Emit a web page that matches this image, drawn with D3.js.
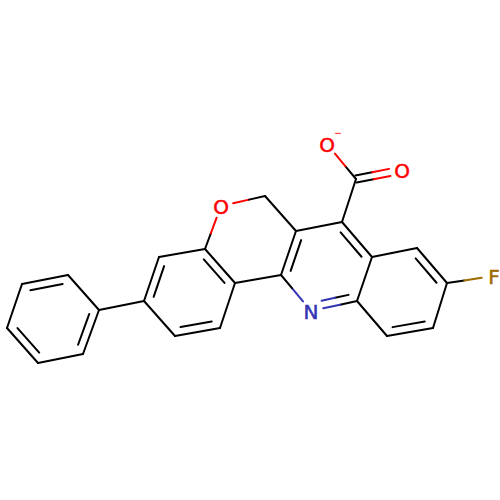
<!DOCTYPE html>
<html><head><meta charset="utf-8">
<style>html,body{margin:0;padding:0;background:#fff}svg{display:block}</style>
<script src="https://cdn.jsdelivr.net/npm/d3@7"></script></head>
<body><div id="chart"></div>
<script>
// Atoms (depiction units)
const atomNames = ["C1","C2","C3","C4","C5","C6","C7","C8","C9","C10","C11","C12","O13","C14","C15","C16","C17","O18","O19","C20","C21","C22","C23","C24","C25","N26","C27","F28"];
const atomX = [99,68,22,7,38,83,144,159,205,235,220,175,221,265,296,342,356,327,402,372,417,447,433,387,357,311,281,494];
const atomY = [310,275,284,328,363,354,301,257,249,283,328,336,206,196,231,222,179,144,170,257,248,283,328,336,301,311,275,276];
const atomLabels = ["","","","","","","","","","","","","O","","","","","O","O","","","","","","","N","","F"];
const atomColors = {O:"#ff0000",N:"#3333b3",F:"#a06a00","":"#000000"};
// Bonds: from atom, to atom, order, ring whose centre the second line leans towards (-1 = centred pair)
const bondFrom = [0,1,2,3,4,5,0,6,7,8,9,10,11,8,12,13,14,15,16,16,15,19,20,21,22,23,24,25,26,26,21,19];
const bondTo   = [1,2,3,4,5,0,6,7,8,9,10,11,6,12,13,14,15,16,17,18,19,20,21,22,23,24,25,26,14,9,27,24];
const bondOrder= [1,2,1,2,1,2,1,2,1,2,1,2,1,1,1,1,1,1,1,2,2,1,2,1,2,1,2,1,2,1,1,1];
const bondRing = [0,0,0,0,0,0,-1,1,1,1,1,1,1,-1,-1,-1,-1,-1,-1,-1,2,-1,3,3,3,3,2,-1,2,-1,-1,-1];
const ringAtoms = [[0,1,2,3,4,5],[6,7,8,9,10,11],[14,15,19,24,25,26],[19,20,21,22,23,24]];
const chargeText = "\u2212";
const chargeAtom = 17;

const W = 500, H = 500;
const x = d3.scaleLinear().domain([0,500]).range([0,W]);
const y = d3.scaleLinear().domain([0,500]).range([0,H]);
const svg = d3.select("#chart").append("svg").attr("width",W).attr("height",H).attr("viewBox",`0 0 ${W} ${H}`);
svg.append("rect").attr("width",W).attr("height",H).attr("fill","#fff");

const LABEL_GAP = 12.5, OFFSET = 7.8, SHORTEN = 7, PAIR = 3.6, SW = 2;
const pt = i => [x(atomX[i]), y(atomY[i])];
const ringCentre = r => [d3.mean(ringAtoms[r],i=>x(atomX[i])), d3.mean(ringAtoms[r],i=>y(atomY[i]))];

const segs = [];
function addHalves(p,q,a,b){
  // p,q already clipped; colours split at the middle of the visible part
  const m=[(p[0]+q[0])/2,(p[1]+q[1])/2];
  const ca=atomColors[atomLabels[a]], cb=atomColors[atomLabels[b]];
  if(ca===cb){segs.push({p,q,c:ca});return;}
  segs.push({p,q:m,c:ca}); segs.push({p:m,q,c:cb});
}
function clip(p,q,a,b,extraA=0,extraB=0){
  const L=Math.hypot(q[0]-p[0],q[1]-p[1]),ux=(q[0]-p[0])/L,uy=(q[1]-p[1])/L;
  const sa=Math.max(atomLabels[a]?LABEL_GAP:0,extraA), sb=Math.max(atomLabels[b]?LABEL_GAP:0,extraB);
  return [[p[0]+ux*sa,p[1]+uy*sa],[q[0]-ux*sb,q[1]-uy*sb]];
}
bondFrom.forEach((a,k)=>{
  const b=bondTo[k],p=pt(a),q=pt(b),L=Math.hypot(q[0]-p[0],q[1]-p[1]);
  const nx=-(q[1]-p[1])/L,ny=(q[0]-p[0])/L;
  if(bondOrder[k]===1){const [s,e]=clip(p,q,a,b);addHalves(s,e,a,b);return;}
  if(bondRing[k]<0){
    [1,-1].forEach(g=>{
      const s0=[p[0]+nx*PAIR*g,p[1]+ny*PAIR*g],e0=[q[0]+nx*PAIR*g,q[1]+ny*PAIR*g];
      const [s,e]=clip(s0,e0,a,b);addHalves(s,e,a,b);
    });
    return;
  }
  const [s,e]=clip(p,q,a,b);addHalves(s,e,a,b);
  const c=ringCentre(bondRing[k]);
  const mx=(p[0]+q[0])/2,my=(p[1]+q[1])/2;
  const g=((c[0]-mx)*nx+(c[1]-my)*ny)>0?1:-1;
  const s0=[p[0]+nx*OFFSET*g,p[1]+ny*OFFSET*g],e0=[q[0]+nx*OFFSET*g,q[1]+ny*OFFSET*g];
  const [s2,e2]=clip(s0,e0,a,b,SHORTEN,SHORTEN);
  addHalves(s2,e2,a,b);
});

svg.append("g").attr("fill","none").attr("stroke-width",SW).attr("stroke-linecap","round")
  .selectAll("line").data(segs).join("line")
  .attr("x1",d=>d.p[0]).attr("y1",d=>d.p[1]).attr("x2",d=>d.q[0]).attr("y2",d=>d.q[1])
  .attr("stroke",d=>d.c);

const labelled = atomNames.map((n,i)=>i).filter(i=>atomLabels[i]);
svg.append("g").attr("font-family","'DejaVu Sans',sans-serif").attr("font-size",20)
  .attr("text-anchor","middle").attr("dominant-baseline","central").attr("stroke-width",0.5)
  .selectAll("text").data(labelled).join("text")
  .attr("x",i=>x(atomX[i])).attr("y",i=>y(atomY[i])+1)
  .attr("fill",i=>atomColors[atomLabels[i]]).attr("stroke",i=>atomColors[atomLabels[i]]).text(i=>atomLabels[i]);
svg.append("text").attr("x",x(atomX[chargeAtom]+11)).attr("y",y(atomY[chargeAtom]-12))
  .attr("font-family","'DejaVu Sans',sans-serif").attr("font-size",9.5).attr("text-anchor","middle")
  .attr("dominant-baseline","central").attr("fill","#ff0000").text(chargeText);
</script></body></html>
